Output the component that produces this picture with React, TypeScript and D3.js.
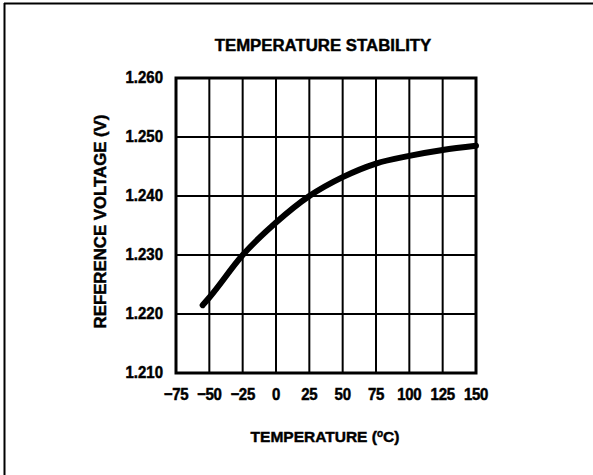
import React from "react";
import * as d3 from "d3";

const temperatures = [-55, -50, -25, 0, 25, 50, 75, 100, 125, 150];
const voltages = [1.2215, 1.2228, 1.23, 1.2355, 1.24, 1.2432, 1.2455, 1.2468, 1.2478, 1.2485];
const xTicks = [-75, -50, -25, 0, 25, 50, 75, 100, 125, 150];
const yTicks = [1.21, 1.22, 1.23, 1.24, 1.25, 1.26];

const W = 593, H = 475;
const L = 176, R = 476, T = 78, B = 373;

export default function App() {
  const x = d3.scaleLinear().domain([-75, 150]).range([L, R]);
  const y = d3.scaleLinear().domain([1.21, 1.26]).range([B, T]);
  const pts: [number, number][] = temperatures.map((t, i) => [t, voltages[i]]);
  const line = d3.line<[number, number]>().x(d => x(d[0])).y(d => y(d[1])).curve(d3.curveMonotoneX);
  const font = "'Liberation Sans', Arial, Helvetica, sans-serif";
  const heavy = { stroke: "#000", strokeWidth: 0.45 };
  return (
    <svg width={W} height={H} style={{ position: "absolute", left: 0, top: 0, background: "#fff" }} fontFamily={font}>
      <rect x={0} y={0} width={W} height={H} fill="#fff" />
      <line x1={4} y1={3.5} x2={W} y2={3.5} stroke="#000" strokeWidth={2} />
      <line x1={4.5} y1={3} x2={4.5} y2={H} stroke="#000" strokeWidth={2} />
      <text x={323} y={51} textAnchor="middle" fontWeight="bold" fontSize={16.8} {...heavy}>TEMPERATURE STABILITY</text>
      {xTicks.slice(1, -1).map(t => (
        <line key={"vx" + t} x1={x(t)} x2={x(t)} y1={T} y2={B} stroke="#000" strokeWidth={2} />
      ))}
      {yTicks.slice(1, -1).map(v => (
        <line key={"hy" + v} x1={L} x2={R} y1={y(v)} y2={y(v)} stroke="#000" strokeWidth={2} />
      ))}
      <rect x={L} y={T} width={R - L} height={B - T} fill="none" stroke="#000" strokeWidth={3} />
      <path d={line(pts) || ""} fill="none" stroke="#000" strokeWidth={6} strokeLinecap="round" />
      {yTicks.map(v => (
        <text key={"yl" + v} x={163} y={y(v) + 5.5} textAnchor="end" fontWeight="bold" fontSize={15}
          transform={`translate(0 ${-(y(v) + 5.5) * 0.15}) scale(1 1.15)`} letterSpacing={0} {...heavy}>
          {v.toFixed(3)}
        </text>
      ))}
      {xTicks.map(t => (
        <text key={"xl" + t} x={x(t)} y={400} textAnchor="middle" fontWeight="bold" fontSize={15}
          transform={`translate(0 ${-400 * 0.15}) scale(1 1.15)`} letterSpacing={-0.3} {...heavy}>
          {t < 0 ? "\u2212" + Math.abs(t) : String(t)}
        </text>
      ))}
      <text transform={`translate(106 ${(T + B) / 2 - 4}) rotate(-90)`} textAnchor="middle" fontWeight="bold" fontSize={16.8} {...heavy}>
        REFERENCE VOLTAGE (V)
      </text>
      <text x={325} y={442} textAnchor="middle" fontWeight="bold" fontSize={15.5} {...heavy}>
        TEMPERATURE (<tspan dy={-5} fontSize={10}>o</tspan><tspan dy={5}>C)</tspan>
      </text>
    </svg>
  );
}
